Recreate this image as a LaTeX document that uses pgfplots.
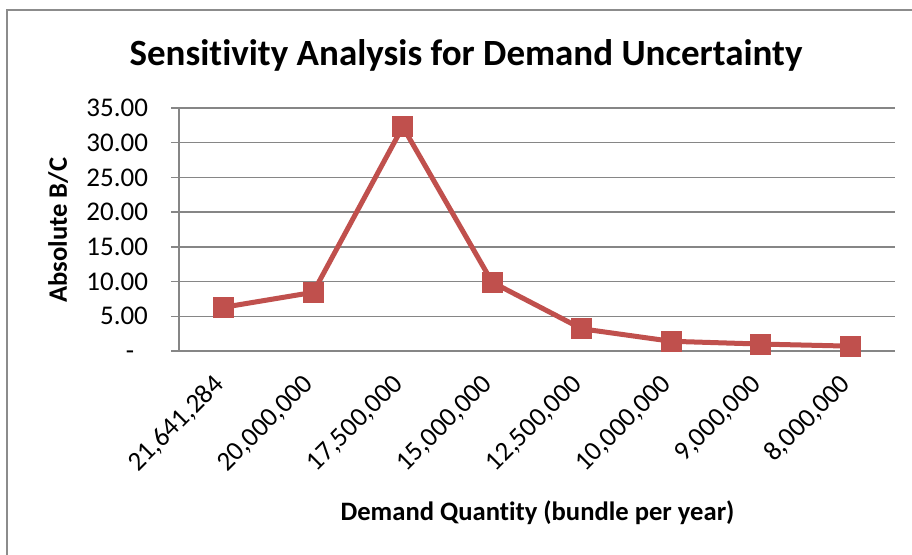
\documentclass[border=0pt]{standalone}
\usepackage{pgfplots}
\pgfplotsset{compat=1.18}
\usepackage{fontspec}
\setmainfont{Carlito}[Ligatures={NoCommon,NoContextual}]
\definecolor{serred}{HTML}{C0504D}
\definecolor{gridgray}{HTML}{868686}
\definecolor{framegray}{HTML}{8C8C8C}
\begin{document}
\begin{tikzpicture}
\useasboundingbox (0,0) rectangle (456pt,277pt);
\draw[framegray, line width=0.7pt] (3.5pt,-20pt) |- (480pt,272pt);
\node[anchor=base, font=\fontsize{18.5}{22}\selectfont\bfseries] at (233pt,244.5pt) {Sensitivity Analysis for Demand Uncertainty};
\node[anchor=base, font=\fontsize{13.3}{16}\selectfont\bfseries] at (268.75pt,17pt) {Demand Quantity (bundle per year)};
\node[anchor=base, rotate=90, font=\fontsize{13.3}{16}\selectfont\bfseries] at (33.5pt,162pt) {Absolute B/C};
\begin{axis}[
  at={(89.5pt,101.5pt)}, anchor=south west,
  width=358pt, height=121.5pt, scale only axis,
  xmin=-0.5, xmax=7.5, ymin=0, ymax=35,
  axis lines=left, axis line style={-, gridgray, line width=0.7pt},
  ymajorgrids, grid style={gridgray, line width=0.7pt},
  ytick={0,5,10,15,20,25,30,35},
  yticklabels={{-\phantom{0}},5.00,10.00,15.00,20.00,25.00,30.00,35.00},
  tick align=outside, major tick length=4pt,
  ytick style={gridgray, line width=0.7pt},
  xtick={0,1,2,3,4,5,6,7},
  xticklabels={{21,641,284},{20,000,000},{17,500,000},{15,000,000},{12,500,000},{10,000,000},{9,000,000},{8,000,000}},
  xtick style={draw=none},
  xticklabel style={xshift=0.5pt, yshift=-8.2pt, rotate=45, anchor=east, font=\fontsize{13.5}{16}\selectfont},
  yticklabel style={font=\fontsize{13.5}{16}\selectfont, anchor=east, xshift=-8pt},
  clip=false,
]
\addplot[serred, line width=2.5pt, mark=square*, mark size=5pt, mark options={fill=serred, draw=serred, line width=0pt}]
  coordinates {(0,6.3) (1,8.45) (2,32.3) (3,9.9) (4,3.2) (5,1.4) (6,1.0) (7,0.7)};
\end{axis}
\end{tikzpicture}
\end{document}
